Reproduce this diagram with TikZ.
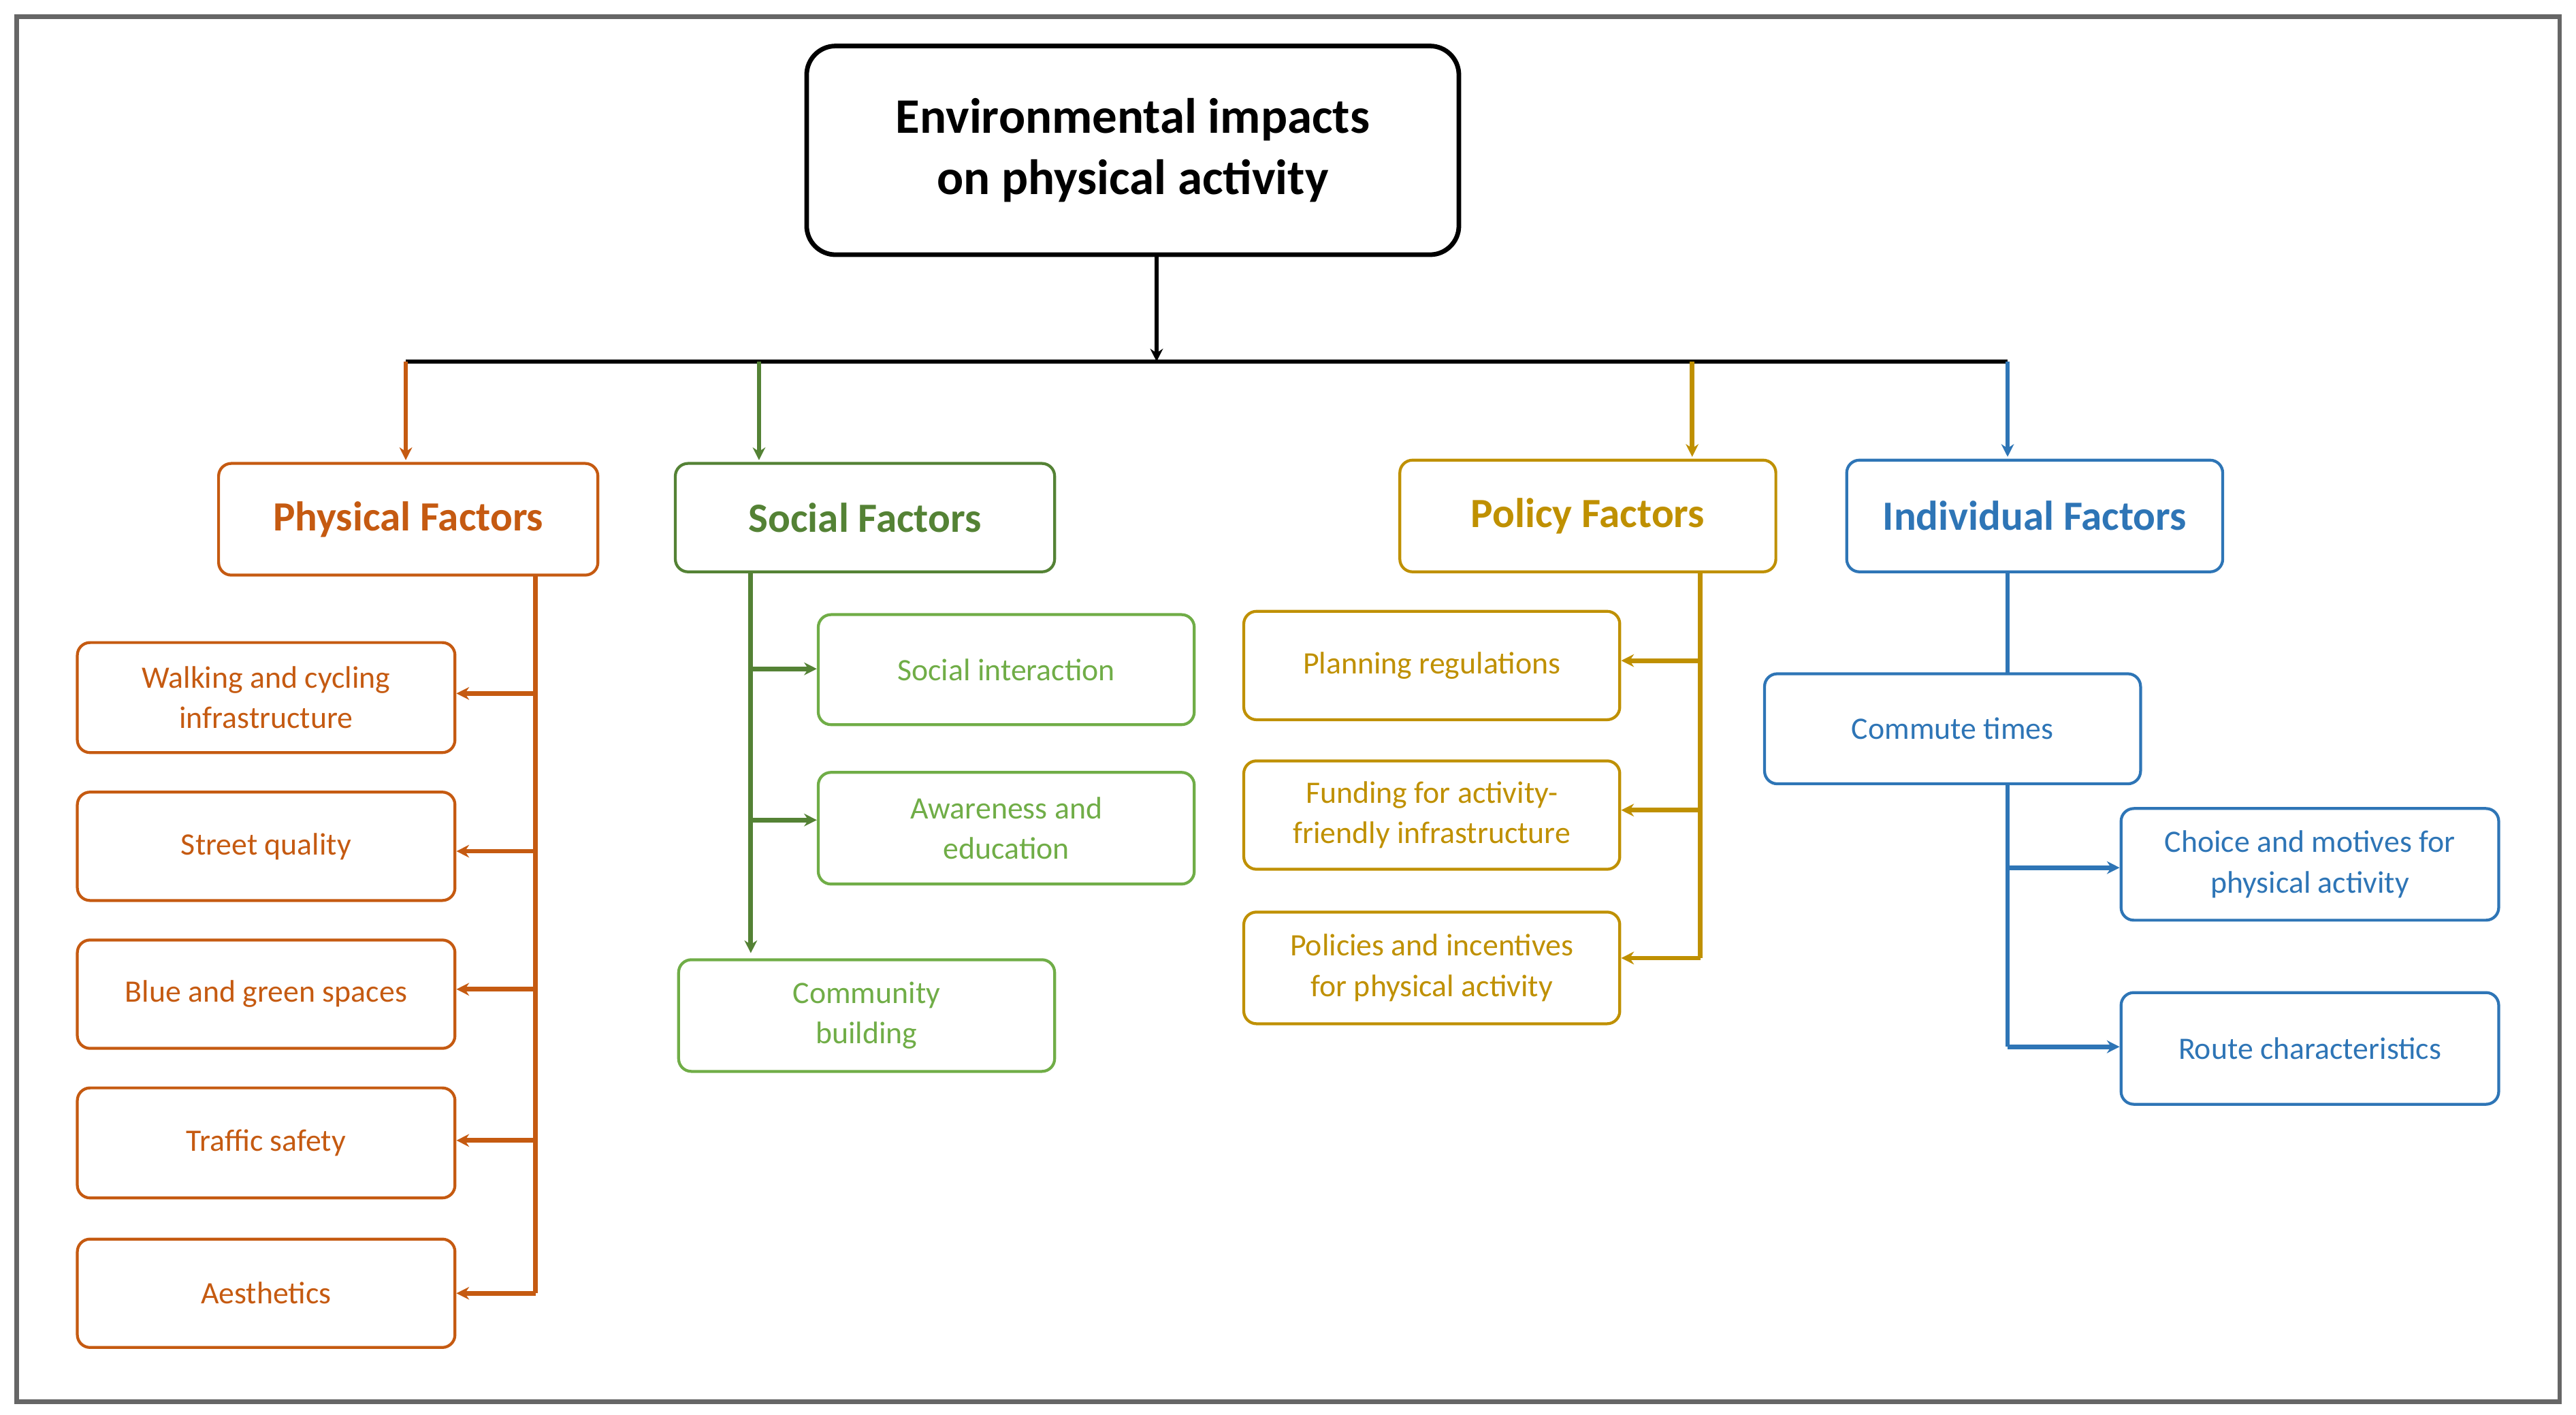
\documentclass[tikz,border=0pt]{standalone}
\usepackage{fontspec}
\setmainfont{Carlito}
\usetikzlibrary{arrows.meta}
\definecolor{cor}{HTML}{C55A11}
\definecolor{cgr}{HTML}{548235}
\definecolor{cgl}{HTML}{70AD47}
\definecolor{cgo}{HTML}{BF9000}
\definecolor{cbl}{HTML}{2E75B6}
\tikzset{
 bx/.style={draw, rounded corners=2.2pt, line width=0.5pt, align=center, inner sep=0pt},
 head/.style={bx, font=\fontsize{7.2}{8}\selectfont\bfseries},
 kid/.style={bx, font=\fontsize{5.4}{7}\selectfont},
 ar/.style={line width=0.8pt, -{Stealth[length=2.2pt,width=2.2pt]}},
 ln/.style={line width=0.8pt}
}
\newcommand{\bxat}[5]{% name, x1,y1,x2,y2
 \path (#2/100,-#3/100) coordinate (#1-a) (#4/100,-#5/100) coordinate (#1-b);}
\begin{document}
\begin{tikzpicture}
\useasboundingbox (0,0) rectangle (15.68,-8.61);
\draw[gray!80!black, line width=0.8pt] (0.1,-0.1) rectangle (15.58,-8.53);
% helper: box via fit-like minimum sizes
\def\mk#1#2#3#4#5#6#7{\node[#2, minimum width={(#5-#3)*0.01cm}, minimum height={(#6-#4)*0.01cm}] (#1) at ({(#3+#5)/200},{-(#4+#6)/200}) {#7};}
\node[bx, rounded corners=5pt, line width=0.8pt, minimum width=3.97cm, minimum height=1.27cm, font=\fontsize{8.6}{10.6}\selectfont\bfseries] (top) at (6.895,-0.915) {Environmental impacts\\on physical activity};
\coordinate (bus) at (7.04,-2.2);
\draw[ar] (top.south -| bus) -- (bus);
\draw[ln] (2.47,-2.2) -- (12.22,-2.2);
% headings
\mk{pf}{head,cor,text=cor}{133}{282}{364}{350}{Physical Factors}
\mk{sf}{head,cgr,text=cgr}{411}{282}{642}{348}{Social Factors}
\mk{plf}{head,cgo,text=cgo}{852}{280}{1081}{348}{Policy Factors}
\mk{if}{head,cbl,text=cbl}{1124}{280}{1353}{348}{Individual Factors}
\draw[ar,cor] (2.47,-2.2) -- (2.47,-2.8);
\draw[ar,cgr] (4.62,-2.2) -- (4.62,-2.8);
\draw[ar,cgo] (10.30,-2.2) -- (10.30,-2.78);
\draw[ar,cbl] (12.22,-2.2) -- (12.22,-2.78);
% physical
\mk{p1}{kid,cor}{47}{391}{277}{458}{Walking and cycling\\infrastructure}
\mk{p2}{kid,cor}{47}{482}{277}{548}{Street quality}
\mk{p3}{kid,cor}{47}{572}{277}{638}{Blue and green spaces}
\mk{p4}{kid,cor}{47}{662}{277}{729}{Traffic safety}
\mk{p5}{kid,cor}{47}{754}{277}{820}{Aesthetics}
\draw[ln,cor] (3.26,-3.5) -- (3.26,-7.87);
\foreach \n/\y in {p1/4.22,p2/5.18,p3/6.02,p4/6.94,p5/7.87}
 \draw[ar,cor] (3.26,-\y) -- (\n.east |- 0,-\y);
% social
\mk{s1}{kid,cgl,text=cgl}{498}{374}{727}{441}{Social interaction}
\mk{s2}{kid,cgl,text=cgl}{498}{470}{727}{538}{Awareness and\\education}
\mk{s3}{kid,cgl,text=cgl}{413}{584}{642}{652}{Community\\building}
\draw[ar,cgr] (4.57,-3.48) -- (4.57,-5.8);
\draw[ar,cgr] (4.57,-4.07) -- (s1.west |- 0,-4.07);
\draw[ar,cgr] (4.57,-4.99) -- (s2.west |- 0,-4.99);
% policy
\mk{q1}{kid,cgo,text=cgo}{757}{372}{986}{438}{Planning regulations}
\mk{q2}{kid,cgo,text=cgo}{757}{463}{986}{529}{Funding for activity-\\friendly infrastructure}
\mk{q3}{kid,cgo,text=cgo}{757}{555}{986}{623}{Policies and incentives\\for physical activity}
\draw[ln,cgo] (10.35,-3.48) -- (10.35,-5.83);
\foreach \n/\y in {q1/4.02,q2/4.93,q3/5.83}
 \draw[ar,cgo] (10.35,-\y) -- (\n.east |- 0,-\y);
% individual
\mk{i1}{kid,cbl,text=cbl}{1074}{410}{1303}{477}{Commute times}
\mk{i2}{kid,cbl,text=cbl}{1291}{492}{1521}{560}{Choice and motives for\\physical activity}
\mk{i3}{kid,cbl,text=cbl}{1291}{604}{1521}{672}{Route characteristics}
\draw[ln,cbl] (12.22,-3.48) -- (12.22,-4.10);
\draw[ln,cbl] (12.22,-4.77) -- (12.22,-6.37);
\draw[ar,cbl] (12.22,-5.28) -- (i2.west |- 0,-5.28);
\draw[ar,cbl] (12.22,-6.37) -- (i3.west |- 0,-6.37);
\end{tikzpicture}
\end{document}
